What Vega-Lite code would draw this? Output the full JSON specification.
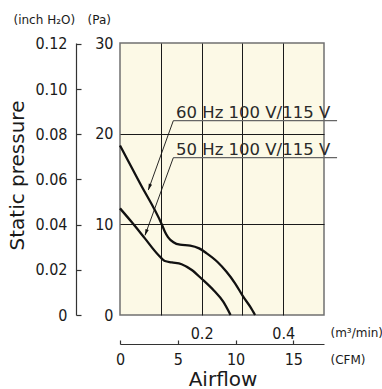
{
  "$schema": "https://vega.github.io/schema/vega-lite/v6.json",
  "width": 204,
  "height": 272,
  "autosize": {"type": "none"},
  "padding": {"left": 120, "top": 43, "right": 58, "bottom": 74},
  "background": "white",
  "config": {
    "view": {"fill": "#FCF9E6", "stroke": "#707070", "strokeWidth": 1.5},
    "axis": {
      "labelFont": "DejaVu Sans Condensed",
      "labelFontSize": 16,
      "labelColor": "#1a1a1a",
      "titleFont": "DejaVu Sans",
      "titleFontWeight": "normal",
      "titleColor": "#1a1a1a",
      "labelFlush": false,
      "labelOverlap": false
    }
  },
  "layer": [
    {
      "layer": [
        {
          "data": {
            "values": [
              {"series": "60 Hz", "flow": 0, "pressure": 18.7},
              {"series": "60 Hz", "flow": 0.05, "pressure": 14.45},
              {"series": "60 Hz", "flow": 0.102, "pressure": 10.04},
              {"series": "60 Hz", "flow": 0.11, "pressure": 9.19},
              {"series": "60 Hz", "flow": 0.118, "pressure": 8.57},
              {"series": "60 Hz", "flow": 0.131, "pressure": 8.02},
              {"series": "60 Hz", "flow": 0.147, "pressure": 7.75},
              {"series": "60 Hz", "flow": 0.172, "pressure": 7.66},
              {"series": "60 Hz", "flow": 0.194, "pressure": 7.35},
              {"series": "60 Hz", "flow": 0.2125, "pressure": 6.8},
              {"series": "60 Hz", "flow": 0.239, "pressure": 5.85},
              {"series": "60 Hz", "flow": 0.261, "pressure": 4.77},
              {"series": "60 Hz", "flow": 0.282, "pressure": 3.5},
              {"series": "60 Hz", "flow": 0.302, "pressure": 2.02},
              {"series": "60 Hz", "flow": 0.319, "pressure": 0.92},
              {"series": "60 Hz", "flow": 0.331, "pressure": 0},
              {"series": "50 Hz", "flow": 0, "pressure": 11.76},
              {"series": "50 Hz", "flow": 0.0286, "pressure": 10.25},
              {"series": "50 Hz", "flow": 0.061, "pressure": 8.45},
              {"series": "50 Hz", "flow": 0.094, "pressure": 6.62},
              {"series": "50 Hz", "flow": 0.11, "pressure": 5.95},
              {"series": "50 Hz", "flow": 0.127, "pressure": 5.8},
              {"series": "50 Hz", "flow": 0.151, "pressure": 5.6},
              {"series": "50 Hz", "flow": 0.176, "pressure": 4.96},
              {"series": "50 Hz", "flow": 0.2, "pressure": 4.0},
              {"series": "50 Hz", "flow": 0.23, "pressure": 2.7},
              {"series": "50 Hz", "flow": 0.253, "pressure": 1.47},
              {"series": "50 Hz", "flow": 0.271, "pressure": 0}
            ]
          },
          "mark": {"type": "line", "color": "#111111", "strokeWidth": 2.3, "interpolate": "monotone"},
          "encoding": {
            "x": {
              "field": "flow",
              "type": "quantitative",
              "scale": {"domain": [0, 0.5], "nice": false, "zero": false},
              "axis": {
                "orient": "bottom",
                "values": [0.1, 0.2, 0.3, 0.4],
                "labelExpr": "datum.value == 0.2 || datum.value == 0.4 ? format(datum.value, '.1f') : ''",
                "domain": false,
                "ticks": false,
                "tickSize": 0,
                "labelPadding": 10,
                "grid": true,
                "gridColor": "#1a1a1a",
                "gridWidth": 1,
                "title": "(m³/min)",
                "titleFontSize": 12,
                "titleAlign": "left",
                "titleBaseline": "alphabetic",
                "titleX": 210,
                "titleY": 21
              }
            },
            "y": {
              "field": "pressure",
              "type": "quantitative",
              "scale": {"domain": [0, 30], "nice": false},
              "axis": {
                "orient": "left",
                "values": [0, 10, 20, 30],
                "format": "d",
                "domain": false,
                "ticks": false,
                "tickSize": 0,
                "labelPadding": 7,
                "grid": true,
                "gridColor": "#1a1a1a",
                "gridWidth": 1,
                "gridOpacity": {"condition": {"test": "datum.value == 0 || datum.value == 30", "value": 0}, "value": 1},
                "title": "(Pa)",
                "titleAngle": 0,
                "titleFontSize": 12,
                "titleAlign": "left",
                "titleBaseline": "alphabetic",
                "titleX": -33,
                "titleY": -20
              }
            },
            "detail": {"field": "series", "type": "nominal"}
          }
        },
        {
          "data": {
            "values": [
              {"flow": 0.1307, "flow2": 0.532, "pressure": 21.43, "pressure2": 21.43},
              {"flow": 0.1307, "flow2": 0.532, "pressure": 17.35, "pressure2": 17.35}
            ]
          },
          "mark": {"type": "rule", "color": "#666666", "strokeWidth": 1.3},
          "encoding": {
            "x": {"field": "flow", "type": "quantitative"},
            "x2": {"field": "flow2"},
            "y": {"field": "pressure", "type": "quantitative"},
            "y2": {"field": "pressure2"}
          }
        },
        {
          "data": {
            "values": [
              {"flow": 0.1307, "flow2": 0.0694, "pressure": 21.43, "pressure2": 13.79},
              {"flow": 0.1307, "flow2": 0.0613, "pressure": 17.35, "pressure2": 8.79}
            ]
          },
          "mark": {"type": "rule", "color": "#111111", "strokeWidth": 0.9},
          "encoding": {
            "x": {"field": "flow", "type": "quantitative"},
            "x2": {"field": "flow2"},
            "y": {"field": "pressure", "type": "quantitative"},
            "y2": {"field": "pressure2"}
          }
        },
        {
          "data": {
            "values": [
              {"flow": 0.0719, "pressure": 14.1},
              {"flow": 0.0638, "pressure": 9.1}
            ]
          },
          "mark": {"type": "point", "shape": "M-0.55,-1L0.55,-1L0,1Z", "size": 40, "filled": true, "opacity": 1, "color": "#111111", "angle": 20},
          "encoding": {
            "x": {"field": "flow", "type": "quantitative"},
            "y": {"field": "pressure", "type": "quantitative"}
          }
        },
        {
          "data": {
            "values": [
              {"label": "60 Hz 100 V/115 V", "flow": 0.1373, "pressure": 21.69},
              {"label": "50 Hz 100 V/115 V", "flow": 0.1373, "pressure": 17.65}
            ]
          },
          "mark": {"type": "text", "align": "left", "baseline": "alphabetic", "font": "DejaVu Sans", "fontSize": 16.5, "color": "#2a2a2a"},
          "encoding": {
            "x": {"field": "flow", "type": "quantitative"},
            "y": {"field": "pressure", "type": "quantitative"},
            "text": {"field": "label", "type": "nominal"}
          }
        }
      ]
    },
    {
      "data": {"values": [{"cfm": 0, "inch": 0}]},
      "mark": {"type": "point", "opacity": 0},
      "encoding": {
        "x": {
          "field": "cfm",
          "type": "quantitative",
          "scale": {"domain": [0, 17.657], "nice": false},
          "axis": {
            "orient": "bottom",
            "offset": 29,
            "values": [0, 5, 10, 15],
            "format": "d",
            "domain": true,
            "domainColor": "#333333",
            "domainWidth": 1.2,
            "ticks": true,
            "tickSize": -4,
            "tickColor": "#333333",
            "tickWidth": 1.2,
            "labelPadding": 11.5,
            "grid": false,
            "title": "(CFM)",
            "titleFontSize": 12,
            "titleAlign": "left",
            "titleBaseline": "alphabetic",
            "titleX": 210,
            "titleY": 19.5
          }
        },
        "y": {
          "field": "inch",
          "type": "quantitative",
          "scale": {"domain": [0, 0.12044], "nice": false},
          "axis": {
            "orient": "left",
            "offset": 44,
            "values": [0, 0.02, 0.04, 0.06, 0.08, 0.1, 0.12],
            "labelExpr": "datum.value == 0 ? '0' : format(datum.value, '.2f')",
            "domain": true,
            "domainColor": "#333333",
            "domainWidth": 1.2,
            "ticks": true,
            "tickSize": -5,
            "tickColor": "#333333",
            "tickWidth": 1.2,
            "labelPadding": 14,
            "grid": false,
            "title": "(inch H₂O)",
            "titleAngle": 0,
            "titleFontSize": 12,
            "titleAlign": "left",
            "titleBaseline": "alphabetic",
            "titleX": -63,
            "titleY": -20
          }
        }
      }
    },
    {
      "data": {"values": [{"a": 0, "b": 0}]},
      "mark": {"type": "point", "opacity": 0},
      "encoding": {
        "x": {
          "field": "a",
          "type": "quantitative",
          "scale": {"domain": [0, 1]},
          "axis": {
            "orient": "bottom",
            "domain": false,
            "ticks": false,
            "labels": false,
            "grid": false,
            "title": "Airflow",
            "titleFontSize": 20,
            "titleAlign": "center",
            "titleBaseline": "alphabetic",
            "titleX": 102.5,
            "titleY": 70.5
          }
        },
        "y": {
          "field": "b",
          "type": "quantitative",
          "scale": {"domain": [0, 1]},
          "axis": {
            "orient": "left",
            "domain": false,
            "ticks": false,
            "labels": false,
            "grid": false,
            "title": "Static pressure",
            "titleFontSize": 20,
            "titleAngle": 270,
            "titleAlign": "center",
            "titleBaseline": "middle",
            "titleX": -103,
            "titleY": 132
          }
        }
      }
    }
  ],
  "resolve": {"scale": {"x": "independent", "y": "independent"}}
}
